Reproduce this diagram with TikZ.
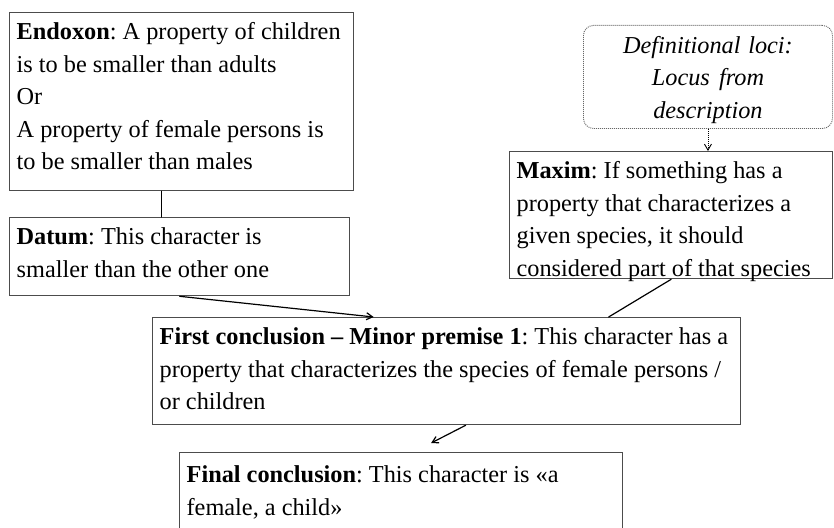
\documentclass[tikz,border=0pt]{standalone}
\usepackage{fontspec}
\setmainfont{Liberation Serif}
\usetikzlibrary{arrows.meta}
\tikzset{
  argbox/.style={draw=black!70, line width=1.3pt, anchor=north west, align=left,
    inner xsep=7pt, inner ysep=0pt, text height=27pt,
    execute at begin node={\frenchspacing\hyphenpenalty=10000
      \spaceskip=0.25em plus 0.1em minus 0.1em}},
  locusbox/.style={argbox, align=center, rounded corners=10pt, draw=black!60,
    line width=0.9pt, dash pattern=on 1pt off 1pt,
    font=\fontsize{24.3pt}{32.5pt}\selectfont\itshape},
  link/.style={line width=1.2pt, line cap=round},
}
\begin{document}
\begin{tikzpicture}[x=1pt, y=-1pt, font=\fontsize{24.3pt}{32.5pt}\selectfont, >={Straight Barb[angle=60:7pt]}]
\useasboundingbox (0,0) rectangle (834,527);
\clip (0,0) rectangle (834,527);
% premises on the left
\node[argbox, text width=330pt, text depth=151pt] (endoxon) at (9,12)
  {\textbf{Endoxon}: A property of children\\ is to be smaller than adults\\ Or\\ A property of female persons is\\ to be smaller than males};
\node[argbox, text width=326pt, text depth=51pt] (datum) at (9,217)
  {\textbf{Datum}: This character is\\ smaller than the other one};
% locus and maxim on the right
\node[locusbox, text width=235pt, text height=28pt, text depth=75pt] (locus) at (583,25)
  {Definitional loci:\\ Locus from\\ description};
\node[argbox, text width=309pt, text depth=100pt] (maxim) at (509,151)
  {\textbf{Maxim}: If something has a\\ property that characterizes a\\ given species, it should\\ considered part of that species};
% conclusions
\node[argbox, text width=574pt, text depth=80pt] (first) at (152,317)
  {\textbf{First conclusion -- Minor premise 1}: This character has a\\ property that characterizes the species of female persons /\\ or children};
\node[argbox, text width=429pt, text height=30pt, text depth=90pt] (final) at (179,452)
  {\textbf{Final conclusion}: This character is «a\\ female, a child»};

\draw[link] ([xshift=-20pt]endoxon.south) -- ([xshift=-20pt]endoxon.south |- datum.north);
\draw[link, ->] (datum.south) -- ([xshift=-73pt]first.north);
\draw[->, line width=0.9pt, dash pattern=on 1pt off 1pt] (locus.south) -- (locus.south |- maxim.north);
\draw[link] (maxim.south) -- ([xshift=162pt]first.north);
\draw[link, ->] ([xshift=19pt]first.south) -- ([xshift=30pt, yshift=9pt]final.north);
\end{tikzpicture}
\end{document}
